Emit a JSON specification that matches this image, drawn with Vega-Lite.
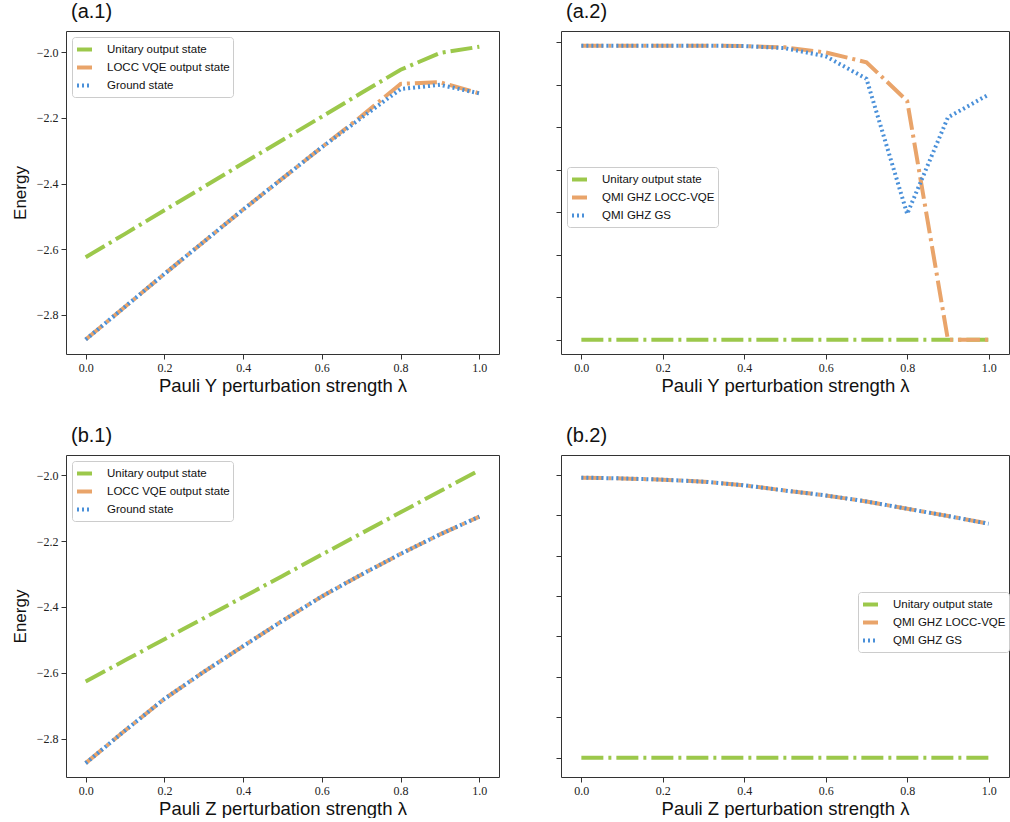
{
  "$schema": "https://vega.github.io/schema/vega-lite/v6.json",
  "background": "white",
  "padding": {"left": 10, "top": 1, "right": 0, "bottom": 0},
  "config": {
    "view": {"stroke": "#333", "strokeWidth": 1},
    "axis": {"grid": false, "domain": false, "tickColor": "#333", "tickSize": 5, "labelFont": "Liberation Serif", "labelFontSize": 12, "labelColor": "#222", "labelPadding": 3, "titleFont": "Liberation Sans", "titleFontSize": 17, "titleFontWeight": "normal", "titleColor": "#111"},
    "axisX": {"titlePadding": 3, "titleFontSize": 18.5},
    "axisY": {"titlePadding": 7},
    "legend": {"labelFont": "Liberation Sans", "labelFontSize": 11.5, "labelColor": "#111", "symbolType": "stroke", "symbolSize": 225, "strokeColor": "#ccc", "fillColor": "white", "padding": 3, "cornerRadius": 3, "rowPadding": 0, "labelOffset": 13},
    "title": {"font": "Liberation Sans", "fontSize": 20, "fontWeight": "normal", "anchor": "start", "frame": "group", "offset": 9, "dx": 5, "color": "#111"},
    "line": {"clip": true}
  },
  "datasets": {
    "pts": [
      {"panel": "a1", "series": "Unitary output state", "x": 0.0, "y": -2.624},
      {"panel": "a1", "series": "Unitary output state", "x": 0.1, "y": -2.553},
      {"panel": "a1", "series": "Unitary output state", "x": 0.2, "y": -2.481},
      {"panel": "a1", "series": "Unitary output state", "x": 0.3, "y": -2.41},
      {"panel": "a1", "series": "Unitary output state", "x": 0.4, "y": -2.338},
      {"panel": "a1", "series": "Unitary output state", "x": 0.5, "y": -2.267},
      {"panel": "a1", "series": "Unitary output state", "x": 0.6, "y": -2.196},
      {"panel": "a1", "series": "Unitary output state", "x": 0.7, "y": -2.124},
      {"panel": "a1", "series": "Unitary output state", "x": 0.8, "y": -2.053},
      {"panel": "a1", "series": "Unitary output state", "x": 0.9, "y": -2.002},
      {"panel": "a1", "series": "Unitary output state", "x": 1.0, "y": -1.983},
      {"panel": "a1", "series": "LOCC VQE output state", "x": 0.0, "y": -2.875},
      {"panel": "a1", "series": "LOCC VQE output state", "x": 0.1, "y": -2.775},
      {"panel": "a1", "series": "LOCC VQE output state", "x": 0.2, "y": -2.675},
      {"panel": "a1", "series": "LOCC VQE output state", "x": 0.3, "y": -2.577},
      {"panel": "a1", "series": "LOCC VQE output state", "x": 0.4, "y": -2.479},
      {"panel": "a1", "series": "LOCC VQE output state", "x": 0.5, "y": -2.384},
      {"panel": "a1", "series": "LOCC VQE output state", "x": 0.6, "y": -2.289},
      {"panel": "a1", "series": "LOCC VQE output state", "x": 0.7, "y": -2.195},
      {"panel": "a1", "series": "LOCC VQE output state", "x": 0.8, "y": -2.096},
      {"panel": "a1", "series": "LOCC VQE output state", "x": 0.9, "y": -2.091},
      {"panel": "a1", "series": "LOCC VQE output state", "x": 1.0, "y": -2.125},
      {"panel": "a1", "series": "Ground state", "x": 0.0, "y": -2.875},
      {"panel": "a1", "series": "Ground state", "x": 0.1, "y": -2.775},
      {"panel": "a1", "series": "Ground state", "x": 0.2, "y": -2.675},
      {"panel": "a1", "series": "Ground state", "x": 0.3, "y": -2.577},
      {"panel": "a1", "series": "Ground state", "x": 0.4, "y": -2.479},
      {"panel": "a1", "series": "Ground state", "x": 0.5, "y": -2.384},
      {"panel": "a1", "series": "Ground state", "x": 0.6, "y": -2.289},
      {"panel": "a1", "series": "Ground state", "x": 0.7, "y": -2.2},
      {"panel": "a1", "series": "Ground state", "x": 0.8, "y": -2.112},
      {"panel": "a1", "series": "Ground state", "x": 0.9, "y": -2.099},
      {"panel": "a1", "series": "Ground state", "x": 1.0, "y": -2.125},

      {"panel": "a2", "series": "Unitary output state", "x": 0.0, "y": 0},
      {"panel": "a2", "series": "Unitary output state", "x": 0.1, "y": 0},
      {"panel": "a2", "series": "Unitary output state", "x": 0.2, "y": 0},
      {"panel": "a2", "series": "Unitary output state", "x": 0.3, "y": 0},
      {"panel": "a2", "series": "Unitary output state", "x": 0.4, "y": 0},
      {"panel": "a2", "series": "Unitary output state", "x": 0.5, "y": 0},
      {"panel": "a2", "series": "Unitary output state", "x": 0.6, "y": 0},
      {"panel": "a2", "series": "Unitary output state", "x": 0.7, "y": 0},
      {"panel": "a2", "series": "Unitary output state", "x": 0.8, "y": 0},
      {"panel": "a2", "series": "Unitary output state", "x": 0.9, "y": 0},
      {"panel": "a2", "series": "Unitary output state", "x": 1.0, "y": 0},
      {"panel": "a2", "series": "QMI GHZ LOCC-VQE", "x": 0.0, "y": 6.92},
      {"panel": "a2", "series": "QMI GHZ LOCC-VQE", "x": 0.1, "y": 6.92},
      {"panel": "a2", "series": "QMI GHZ LOCC-VQE", "x": 0.2, "y": 6.92},
      {"panel": "a2", "series": "QMI GHZ LOCC-VQE", "x": 0.3, "y": 6.92},
      {"panel": "a2", "series": "QMI GHZ LOCC-VQE", "x": 0.4, "y": 6.91},
      {"panel": "a2", "series": "QMI GHZ LOCC-VQE", "x": 0.5, "y": 6.88},
      {"panel": "a2", "series": "QMI GHZ LOCC-VQE", "x": 0.6, "y": 6.76},
      {"panel": "a2", "series": "QMI GHZ LOCC-VQE", "x": 0.7, "y": 6.53},
      {"panel": "a2", "series": "QMI GHZ LOCC-VQE", "x": 0.8, "y": 5.62},
      {"panel": "a2", "series": "QMI GHZ LOCC-VQE", "x": 0.9, "y": 0},
      {"panel": "a2", "series": "QMI GHZ LOCC-VQE", "x": 1.0, "y": 0},
      {"panel": "a2", "series": "QMI GHZ GS", "x": 0.0, "y": 6.92},
      {"panel": "a2", "series": "QMI GHZ GS", "x": 0.1, "y": 6.92},
      {"panel": "a2", "series": "QMI GHZ GS", "x": 0.2, "y": 6.92},
      {"panel": "a2", "series": "QMI GHZ GS", "x": 0.3, "y": 6.92},
      {"panel": "a2", "series": "QMI GHZ GS", "x": 0.4, "y": 6.91},
      {"panel": "a2", "series": "QMI GHZ GS", "x": 0.5, "y": 6.86},
      {"panel": "a2", "series": "QMI GHZ GS", "x": 0.6, "y": 6.67},
      {"panel": "a2", "series": "QMI GHZ GS", "x": 0.7, "y": 6.14},
      {"panel": "a2", "series": "QMI GHZ GS", "x": 0.8, "y": 2.96},
      {"panel": "a2", "series": "QMI GHZ GS", "x": 0.9, "y": 5.23},
      {"panel": "a2", "series": "QMI GHZ GS", "x": 1.0, "y": 5.77},

      {"panel": "b1", "series": "Unitary output state", "x": 0.0, "y": -2.626},
      {"panel": "b1", "series": "Unitary output state", "x": 0.1, "y": -2.562},
      {"panel": "b1", "series": "Unitary output state", "x": 0.2, "y": -2.498},
      {"panel": "b1", "series": "Unitary output state", "x": 0.3, "y": -2.434},
      {"panel": "b1", "series": "Unitary output state", "x": 0.4, "y": -2.37},
      {"panel": "b1", "series": "Unitary output state", "x": 0.5, "y": -2.306},
      {"panel": "b1", "series": "Unitary output state", "x": 0.6, "y": -2.241},
      {"panel": "b1", "series": "Unitary output state", "x": 0.7, "y": -2.177},
      {"panel": "b1", "series": "Unitary output state", "x": 0.8, "y": -2.113},
      {"panel": "b1", "series": "Unitary output state", "x": 0.9, "y": -2.049},
      {"panel": "b1", "series": "Unitary output state", "x": 1.0, "y": -1.985},
      {"panel": "b1", "series": "LOCC VQE output state", "x": 0.0, "y": -2.874},
      {"panel": "b1", "series": "LOCC VQE output state", "x": 0.1, "y": -2.775},
      {"panel": "b1", "series": "LOCC VQE output state", "x": 0.2, "y": -2.679},
      {"panel": "b1", "series": "LOCC VQE output state", "x": 0.3, "y": -2.597},
      {"panel": "b1", "series": "LOCC VQE output state", "x": 0.4, "y": -2.519},
      {"panel": "b1", "series": "LOCC VQE output state", "x": 0.5, "y": -2.442},
      {"panel": "b1", "series": "LOCC VQE output state", "x": 0.6, "y": -2.368},
      {"panel": "b1", "series": "LOCC VQE output state", "x": 0.7, "y": -2.302},
      {"panel": "b1", "series": "LOCC VQE output state", "x": 0.8, "y": -2.239},
      {"panel": "b1", "series": "LOCC VQE output state", "x": 0.9, "y": -2.18},
      {"panel": "b1", "series": "LOCC VQE output state", "x": 1.0, "y": -2.126},
      {"panel": "b1", "series": "Ground state", "x": 0.0, "y": -2.874},
      {"panel": "b1", "series": "Ground state", "x": 0.1, "y": -2.775},
      {"panel": "b1", "series": "Ground state", "x": 0.2, "y": -2.679},
      {"panel": "b1", "series": "Ground state", "x": 0.3, "y": -2.597},
      {"panel": "b1", "series": "Ground state", "x": 0.4, "y": -2.519},
      {"panel": "b1", "series": "Ground state", "x": 0.5, "y": -2.442},
      {"panel": "b1", "series": "Ground state", "x": 0.6, "y": -2.368},
      {"panel": "b1", "series": "Ground state", "x": 0.7, "y": -2.302},
      {"panel": "b1", "series": "Ground state", "x": 0.8, "y": -2.239},
      {"panel": "b1", "series": "Ground state", "x": 0.9, "y": -2.18},
      {"panel": "b1", "series": "Ground state", "x": 1.0, "y": -2.126},

      {"panel": "b2", "series": "Unitary output state", "x": 0.0, "y": 0},
      {"panel": "b2", "series": "Unitary output state", "x": 0.1, "y": 0},
      {"panel": "b2", "series": "Unitary output state", "x": 0.2, "y": 0},
      {"panel": "b2", "series": "Unitary output state", "x": 0.3, "y": 0},
      {"panel": "b2", "series": "Unitary output state", "x": 0.4, "y": 0},
      {"panel": "b2", "series": "Unitary output state", "x": 0.5, "y": 0},
      {"panel": "b2", "series": "Unitary output state", "x": 0.6, "y": 0},
      {"panel": "b2", "series": "Unitary output state", "x": 0.7, "y": 0},
      {"panel": "b2", "series": "Unitary output state", "x": 0.8, "y": 0},
      {"panel": "b2", "series": "Unitary output state", "x": 0.9, "y": 0},
      {"panel": "b2", "series": "Unitary output state", "x": 1.0, "y": 0},
      {"panel": "b2", "series": "QMI GHZ LOCC-VQE", "x": 0.0, "y": 6.93},
      {"panel": "b2", "series": "QMI GHZ LOCC-VQE", "x": 0.1, "y": 6.91},
      {"panel": "b2", "series": "QMI GHZ LOCC-VQE", "x": 0.2, "y": 6.88},
      {"panel": "b2", "series": "QMI GHZ LOCC-VQE", "x": 0.3, "y": 6.83},
      {"panel": "b2", "series": "QMI GHZ LOCC-VQE", "x": 0.4, "y": 6.74},
      {"panel": "b2", "series": "QMI GHZ LOCC-VQE", "x": 0.5, "y": 6.61},
      {"panel": "b2", "series": "QMI GHZ LOCC-VQE", "x": 0.6, "y": 6.49},
      {"panel": "b2", "series": "QMI GHZ LOCC-VQE", "x": 0.7, "y": 6.34},
      {"panel": "b2", "series": "QMI GHZ LOCC-VQE", "x": 0.8, "y": 6.16},
      {"panel": "b2", "series": "QMI GHZ LOCC-VQE", "x": 0.9, "y": 5.98},
      {"panel": "b2", "series": "QMI GHZ LOCC-VQE", "x": 1.0, "y": 5.79},
      {"panel": "b2", "series": "QMI GHZ GS", "x": 0.0, "y": 6.93},
      {"panel": "b2", "series": "QMI GHZ GS", "x": 0.1, "y": 6.91},
      {"panel": "b2", "series": "QMI GHZ GS", "x": 0.2, "y": 6.88},
      {"panel": "b2", "series": "QMI GHZ GS", "x": 0.3, "y": 6.83},
      {"panel": "b2", "series": "QMI GHZ GS", "x": 0.4, "y": 6.74},
      {"panel": "b2", "series": "QMI GHZ GS", "x": 0.5, "y": 6.61},
      {"panel": "b2", "series": "QMI GHZ GS", "x": 0.6, "y": 6.49},
      {"panel": "b2", "series": "QMI GHZ GS", "x": 0.7, "y": 6.34},
      {"panel": "b2", "series": "QMI GHZ GS", "x": 0.8, "y": 6.16},
      {"panel": "b2", "series": "QMI GHZ GS", "x": 0.9, "y": 5.98},
      {"panel": "b2", "series": "QMI GHZ GS", "x": 1.0, "y": 5.79}
    ]
  },
  "columns": 2,
  "spacing": {"row": 101, "column": 62},
  "bounds": "flush",
  "resolve": {
    "scale": {"color": "independent", "strokeDash": "independent", "strokeWidth": "independent"},
    "legend": {"color": "independent", "strokeDash": "independent", "strokeWidth": "independent"}
  },
  "concat": [
    {
      "title": "(a.1)",
      "width": 433, "height": 323,
      "data": {"name": "pts"},
      "transform": [{"filter": "datum.panel === 'a1'"}],
      "mark": {"type": "line", "clip": true},
      "encoding": {
        "x": {"field": "x", "type": "quantitative", "scale": {"domain": [-0.05, 1.05], "nice": false, "zero": false}, "axis": {"values": [0, 0.2, 0.4, 0.6, 0.8, 1.0], "format": ".1f", "title": "Pauli Y perturbation strength λ"}},
        "y": {"field": "y", "type": "quantitative", "scale": {"domain": [-2.919, -1.935], "nice": false, "zero": false}, "axis": {"values": [-2.8, -2.6, -2.4, -2.2, -2.0], "format": ".1f", "title": "Energy"}},
        "color": {"field": "series", "type": "nominal", "scale": {"domain": ["Unitary output state", "LOCC VQE output state", "Ground state"], "range": ["#9CC84B", "#E9A46A", "#4A90D9"]}, "legend": {"title": null, "orient": "top-left", "offset": 6}},
        "strokeDash": {"field": "series", "type": "nominal", "scale": {"domain": ["Unitary output state", "LOCC VQE output state", "Ground state"], "range": [[22, 5, 3, 5], [22, 5, 3, 5], [2, 3]]}, "legend": {"title": null, "orient": "top-left", "offset": 6}},
        "strokeWidth": {"field": "series", "type": "nominal", "scale": {"domain": ["Unitary output state", "LOCC VQE output state", "Ground state"], "range": [4, 4, 2]}, "legend": {"title": null, "orient": "top-left", "offset": 6}}
      }
    },
    {
      "title": "(a.2)",
      "width": 448, "height": 323,
      "data": {"name": "pts"},
      "transform": [{"filter": "datum.panel === 'a2'"}],
      "mark": {"type": "line", "clip": true},
      "encoding": {
        "x": {"field": "x", "type": "quantitative", "scale": {"domain": [-0.05, 1.05], "nice": false, "zero": false}, "axis": {"values": [0, 0.2, 0.4, 0.6, 0.8, 1.0], "format": ".1f", "title": "Pauli Y perturbation strength λ"}},
        "y": {"field": "y", "type": "quantitative", "scale": {"domain": [-0.337, 7.265], "nice": false, "zero": false}, "axis": {"values": [0, 1, 2, 3, 4, 5, 6, 7], "labels": false, "title": null}},
        "color": {"field": "series", "type": "nominal", "scale": {"domain": ["Unitary output state", "QMI GHZ LOCC-VQE", "QMI GHZ GS"], "range": ["#9CC84B", "#E9A46A", "#4A90D9"]}, "legend": {"title": null, "orient": "none", "legendX": 6, "legendY": 136}},
        "strokeDash": {"field": "series", "type": "nominal", "scale": {"domain": ["Unitary output state", "QMI GHZ LOCC-VQE", "QMI GHZ GS"], "range": [[22, 5, 3, 5], [22, 5, 3, 5], [2, 3]]}, "legend": {"title": null, "orient": "none", "legendX": 6, "legendY": 136}},
        "strokeWidth": {"field": "series", "type": "nominal", "scale": {"domain": ["Unitary output state", "QMI GHZ LOCC-VQE", "QMI GHZ GS"], "range": [4, 4, 2]}, "legend": {"title": null, "orient": "none", "legendX": 6, "legendY": 136}}
      }
    },
    {
      "title": "(b.1)",
      "width": 433, "height": 322,
      "data": {"name": "pts"},
      "transform": [{"filter": "datum.panel === 'b1'"}],
      "mark": {"type": "line", "clip": true},
      "encoding": {
        "x": {"field": "x", "type": "quantitative", "scale": {"domain": [-0.05, 1.05], "nice": false, "zero": false}, "axis": {"values": [0, 0.2, 0.4, 0.6, 0.8, 1.0], "format": ".1f", "title": "Pauli Z perturbation strength λ"}},
        "y": {"field": "y", "type": "quantitative", "scale": {"domain": [-2.916, -1.939], "nice": false, "zero": false}, "axis": {"values": [-2.8, -2.6, -2.4, -2.2, -2.0], "format": ".1f", "title": "Energy"}},
        "color": {"field": "series", "type": "nominal", "scale": {"domain": ["Unitary output state", "LOCC VQE output state", "Ground state"], "range": ["#9CC84B", "#E9A46A", "#4A90D9"]}, "legend": {"title": null, "orient": "top-left", "offset": 6}},
        "strokeDash": {"field": "series", "type": "nominal", "scale": {"domain": ["Unitary output state", "LOCC VQE output state", "Ground state"], "range": [[22, 5, 3, 5], [22, 5, 3, 5], [2, 3]]}, "legend": {"title": null, "orient": "top-left", "offset": 6}},
        "strokeWidth": {"field": "series", "type": "nominal", "scale": {"domain": ["Unitary output state", "LOCC VQE output state", "Ground state"], "range": [4, 4, 2]}, "legend": {"title": null, "orient": "top-left", "offset": 6}}
      }
    },
    {
      "title": "(b.2)",
      "width": 448, "height": 322,
      "data": {"name": "pts"},
      "transform": [{"filter": "datum.panel === 'b2'"}],
      "mark": {"type": "line", "clip": true},
      "encoding": {
        "x": {"field": "x", "type": "quantitative", "scale": {"domain": [-0.05, 1.05], "nice": false, "zero": false}, "axis": {"values": [0, 0.2, 0.4, 0.6, 0.8, 1.0], "format": ".1f", "title": "Pauli Z perturbation strength λ"}},
        "y": {"field": "y", "type": "quantitative", "scale": {"domain": [-0.478, 7.49], "nice": false, "zero": false}, "axis": {"values": [0, 1, 2, 3, 4, 5, 6, 7], "labels": false, "title": null}},
        "color": {"field": "series", "type": "nominal", "scale": {"domain": ["Unitary output state", "QMI GHZ LOCC-VQE", "QMI GHZ GS"], "range": ["#9CC84B", "#E9A46A", "#4A90D9"]}, "legend": {"title": null, "orient": "none", "legendX": 297, "legendY": 137}},
        "strokeDash": {"field": "series", "type": "nominal", "scale": {"domain": ["Unitary output state", "QMI GHZ LOCC-VQE", "QMI GHZ GS"], "range": [[22, 5, 3, 5], [22, 5, 3, 5], [2, 3]]}, "legend": {"title": null, "orient": "none", "legendX": 297, "legendY": 137}},
        "strokeWidth": {"field": "series", "type": "nominal", "scale": {"domain": ["Unitary output state", "QMI GHZ LOCC-VQE", "QMI GHZ GS"], "range": [4, 4, 2]}, "legend": {"title": null, "orient": "none", "legendX": 297, "legendY": 137}}
      }
    }
  ]
}
